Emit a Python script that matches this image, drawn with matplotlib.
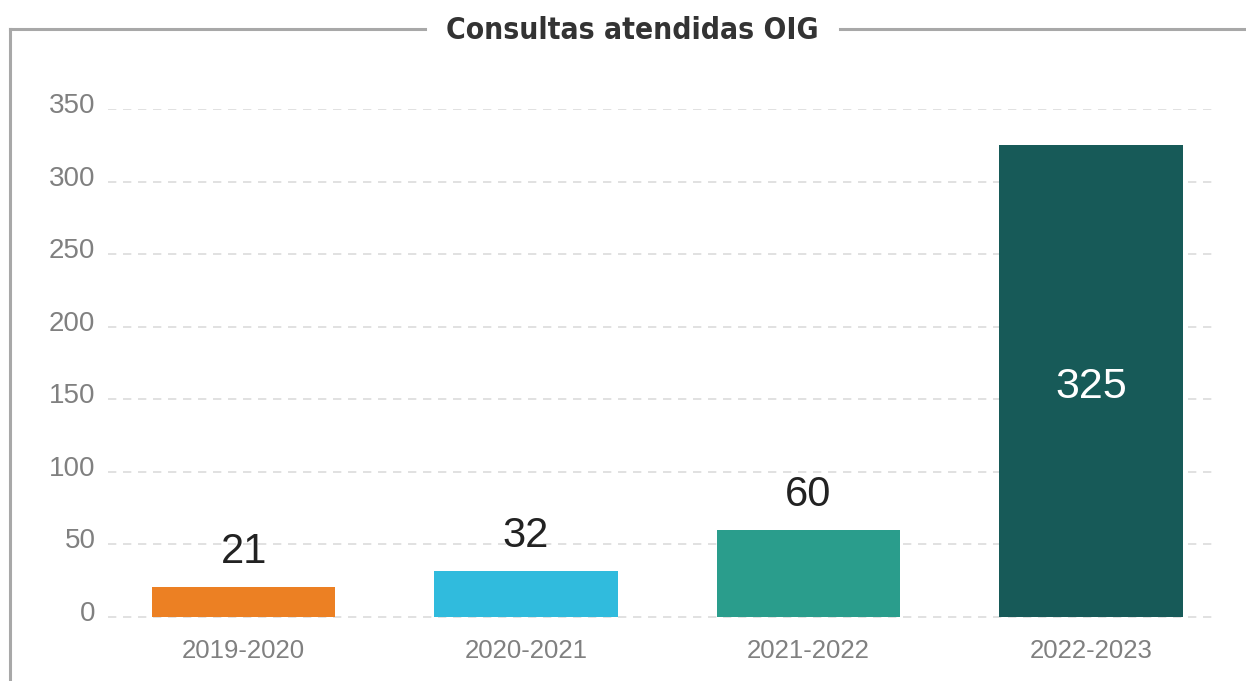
import matplotlib
matplotlib.use("Agg")
import matplotlib.pyplot as plt
from matplotlib.lines import Line2D
from matplotlib.transforms import ScaledTranslation

categories = ["2019-2020", "2020-2021", "2021-2022", "2022-2023"]
values = [21, 32, 60, 325]
colors = ["#EC8023", "#30BBDD", "#2A9D8C", "#175A58"]
yticks = [0, 50, 100, 150, 200, 250, 300, 350]
title = "Consultas atendidas OIG"

fig = plt.figure(figsize=(12.46, 6.81), dpi=100)
ax = fig.add_axes([108/1246, 1-617/681, (1218-108)/1246, (617-109)/681])

x = list(range(len(categories)))
bars = ax.bar(x, values, width=0.65, color=colors, zorder=3)
ax.set_xlim(-0.48, 3.45)
ax.set_ylim(0, 350)
ax.set_yticks(yticks)
ax.set_xticks(x)
ax.set_xticklabels(categories)
for s in ax.spines.values():
    s.set_visible(False)
ax.tick_params(axis="both", length=0, colors="#808080")
ax.tick_params(axis="y", pad=9, labelsize=20)
ax.tick_params(axis="x", pad=16, labelsize=18.5)
for lab in ax.get_xticklabels() + ax.get_yticklabels():
    lab.set_fontfamily("Liberation Sans")
off = ScaledTranslation(0, 6/100, fig.dpi_scale_trans)
for t in ax.yaxis.get_major_ticks():
    t.label1.set_transform(t.label1.get_transform() + off)
ax.yaxis.grid(True, color="#dcdcdc", linestyle=(0, (5, 4)), linewidth=1.2, zorder=0)
ax.yaxis.get_gridlines()[0].set_clip_on(False)
ax.set_axisbelow(True)

for i, v in enumerate(values):
    if v > 200:
        ax.text(i, v / 2 - 4, str(v), ha="center", va="center", fontsize=31,
                color="white", family="Liberation Sans", zorder=4)
    else:
        ax.text(i, v + 10, str(v), ha="center", va="bottom", fontsize=30,
                color="#222222", family="Liberation Sans", zorder=4)

# frame
gray = "#a8a8a8"
ty = 1 - 29/681
fig.add_artist(Line2D([10/1246, 10/1246], [0, ty], color=gray, lw=2.2, transform=fig.transFigure))
fig.add_artist(Line2D([10/1246, 425/1246], [ty, ty], color=gray, lw=2.2, transform=fig.transFigure,
                      solid_capstyle="projecting"))
fig.add_artist(Line2D([840/1246, 1.0], [ty, ty], color=gray, lw=2.2, transform=fig.transFigure))

fig.text(632/1246, ty - 0.002, title, ha="center", va="center", fontsize=21.5, fontweight="bold",
         fontstretch="condensed", family="DejaVu Sans", color="#333333")

fig.savefig("out.png", dpi=100, facecolor="white")
